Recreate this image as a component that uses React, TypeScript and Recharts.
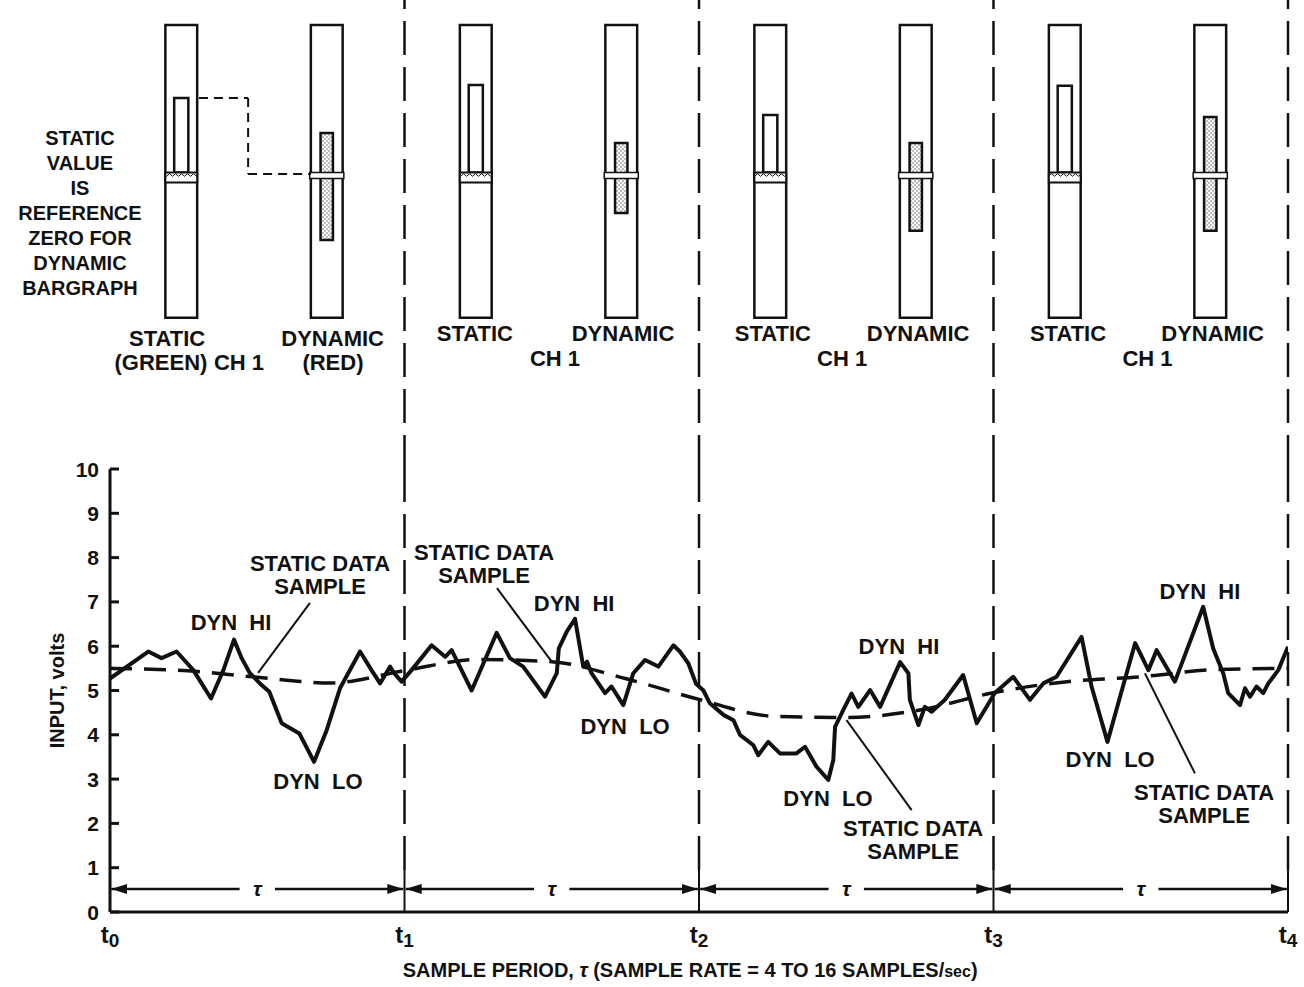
import React from 'react'
import {
  ComposedChart,
  LineChart,
  Line,
  XAxis,
  YAxis,
  ReferenceLine,
  ReferenceArea,
  ReferenceDot,
} from 'recharts'

const FONT = '"Liberation Sans", Arial, Helvetica, sans-serif'
const INK = '#111111'

// time in sample periods (t0..t4), input in volts
const PERIOD_TICKS = [0, 1, 2, 3, 4]
const VOLT_TICKS = [0, 1, 2, 3, 4, 5, 6, 7, 8, 9, 10]

// raw input signal
const SIGNAL_T = [
  0, 0.13, 0.175, 0.226, 0.283, 0.343, 0.385, 0.421, 0.447, 0.475, 0.509, 0.541, 0.583, 0.643, 0.693,
  0.736, 0.781, 0.849, 0.888, 0.917, 0.951, 0.965, 0.99,
  1.024, 1.092, 1.138, 1.16, 1.228, 1.313, 1.358, 1.403, 1.477, 1.517, 1.524, 1.551, 1.579, 1.607,
  1.62, 1.635, 1.681, 1.703, 1.743, 1.777, 1.817, 1.862, 1.913, 1.935, 1.964, 1.99,
  2.015, 2.037, 2.083, 2.117, 2.139, 2.184, 2.201, 2.235, 2.275, 2.331, 2.36, 2.399, 2.439, 2.456,
  2.462, 2.49, 2.518, 2.541, 2.581, 2.615, 2.683, 2.711, 2.716, 2.745, 2.767, 2.79, 2.835, 2.897,
  2.943, 3.005,
  3.067, 3.124, 3.169, 3.214, 3.299, 3.333, 3.387, 3.447, 3.481, 3.526, 3.554, 3.616, 3.712, 3.746,
  3.78, 3.797, 3.837, 3.854, 3.871, 3.893, 3.916, 3.933, 3.967, 4.0,
]
const SIGNAL_V = [
  5.27, 5.88, 5.73, 5.88, 5.46, 4.82, 5.46, 6.15, 5.73, 5.39, 5.16, 4.97, 4.26, 4.03, 3.39,
  4.11, 5.05, 5.88, 5.46, 5.16, 5.54, 5.39, 5.2,
  5.46, 6.02, 5.76, 5.91, 5.0, 6.3, 5.73, 5.54, 4.86, 5.39, 5.95, 6.33, 6.62, 5.54,
  5.65, 5.39, 4.94, 5.09, 4.67, 5.39, 5.69, 5.54, 6.02, 5.88, 5.61, 5.15,
  5.0, 4.71, 4.45, 4.33, 4.0, 3.77, 3.54, 3.84, 3.58, 3.58, 3.73, 3.28, 2.98, 3.43,
  4.18, 4.56, 4.93, 4.63, 5.01, 4.63, 5.64, 5.39, 4.79, 4.22, 4.63, 4.52, 4.79, 5.35,
  4.26, 4.95,
  5.31, 4.79, 5.16, 5.31, 6.21, 5.09, 3.84, 5.27, 6.07, 5.46, 5.91, 5.2, 6.89, 5.95,
  5.39, 4.94, 4.67, 5.05, 4.86, 5.09, 4.94, 5.16, 5.46, 5.99,
]

// smoothed (static) component, dashed
const TREND_T = [0, 0.25, 0.5, 0.75, 1, 1.25, 1.5, 1.75, 2, 2.25, 2.5, 2.75, 3, 3.25, 3.5, 3.75, 4]
const TREND_V = [5.5, 5.45, 5.3, 5.17, 5.45, 5.7, 5.65, 5.27, 4.8, 4.42, 4.39, 4.56, 4.95, 5.2, 5.31, 5.47, 5.5]

// bargraph readings per period, in bargraph units (0 = reference zero)
const STATIC_BAR = [26.2, 30.6, 20.4, 30.3]
const DYN_BAR_HI = [14.3, 10.9, 10.9, 19.7]
const DYN_BAR_LO = [-22.1, -12.9, -19.0, -19.0]

// layout of the bargraph drawings (period fractions / bargraph units)
const BAR_FLOOR = -48.6
const BAR_CEIL = 51
const STATIC_POS = 0.242
const DYNAMIC_POS = 0.736
const OUTER_HALF = 0.054
const INNER_HALF = 0.024
const STIPPLE_HALF = 0.021

type Note = { t: number; v: number; lines: string[] }

const PLOT_NOTES: Note[] = [
  { t: 0.411, v: 6.55, lines: ['DYN\u00a0\u00a0HI'] },
  { t: 0.713, v: 7.88, lines: ['STATIC DATA', 'SAMPLE'] },
  { t: 0.706, v: 2.96, lines: ['DYN\u00a0\u00a0LO'] },
  { t: 1.27, v: 8.13, lines: ['STATIC DATA', 'SAMPLE'] },
  { t: 1.576, v: 6.98, lines: ['DYN\u00a0\u00a0HI'] },
  { t: 1.749, v: 4.2, lines: ['DYN\u00a0\u00a0LO'] },
  { t: 2.679, v: 6.0, lines: ['DYN\u00a0\u00a0HI'] },
  { t: 2.438, v: 2.57, lines: ['DYN\u00a0\u00a0LO'] },
  { t: 2.727, v: 1.9, lines: ['STATIC DATA', 'SAMPLE'] },
  { t: 3.701, v: 7.25, lines: ['DYN\u00a0\u00a0HI'] },
  { t: 3.396, v: 3.45, lines: ['DYN\u00a0\u00a0LO'] },
  { t: 3.715, v: 2.71, lines: ['STATIC DATA', 'SAMPLE'] },
]

// leader lines from the labels to the static samples
const LEADERS = [
  [0.679, 6.98, 0.503, 5.4],
  [1.314, 7.31, 1.501, 5.64],
  [2.501, 4.33, 2.722, 2.3],
  [3.514, 5.39, 3.684, 3.13],
]

const BAR_NOTES: Note[] = [
  { t: 0.194, v: -55.4, lines: ['STATIC'] },
  { t: 0.173, v: -63.6, lines: ['(GREEN)'] },
  { t: 0.438, v: -63.6, lines: ['CH 1'] },
  { t: 0.756, v: -55.4, lines: ['DYNAMIC'] },
  { t: 0.757, v: -63.6, lines: ['(RED)'] },
  { t: 1.239, v: -53.7, lines: ['STATIC'] },
  { t: 1.742, v: -53.7, lines: ['DYNAMIC'] },
  { t: 1.511, v: -62.2, lines: ['CH 1'] },
  { t: 2.251, v: -53.7, lines: ['STATIC'] },
  { t: 2.744, v: -53.7, lines: ['DYNAMIC'] },
  { t: 2.486, v: -62.2, lines: ['CH 1'] },
  { t: 3.253, v: -53.7, lines: ['STATIC'] },
  { t: 3.744, v: -53.7, lines: ['DYNAMIC'] },
  { t: 3.523, v: -62.2, lines: ['CH 1'] },
]

const SIDE_NOTE = ['STATIC', 'VALUE', 'IS', 'REFERENCE', 'ZERO FOR', 'DYNAMIC', 'BARGRAPH']

const signalData = SIGNAL_T.map((t, i) => ({ t, v: SIGNAL_V[i] }))
const trendData = TREND_T.map((t, i) => ({ t, v: TREND_V[i] }))

function textAt(lines: string[], size = 22, gap = 23) {
  return (p: any) => (
    <text
      x={p.cx}
      y={p.cy}
      textAnchor="middle"
      fontFamily={FONT}
      fontWeight={700}
      fontSize={size}
      fill={INK}
    >
      {lines.map((line, i) => (
        <tspan key={i} x={p.cx} dy={i === 0 ? size * 0.36 : gap}>
          {line}
        </tspan>
      ))}
    </text>
  )
}

const arrowShape = (p: any) => (
  <line
    x1={p.x1}
    y1={p.y1}
    x2={p.x2}
    y2={p.y2}
    stroke={INK}
    strokeWidth={2.5}
    markerEnd="url(#arrowHead)"
  />
)

const VoltTick = (p: any) => (
  <g>
    <line x1={p.x} x2={p.x + 9} y1={p.y} y2={p.y} stroke={INK} strokeWidth={3} />
    <text
      x={p.x - 11}
      y={p.y}
      dy={7.5}
      textAnchor="end"
      fontFamily={FONT}
      fontWeight={700}
      fontSize={21}
      fill={INK}
    >
      {p.payload.value}
    </text>
  </g>
)

const PeriodTick = (p: any) => (
  <text x={p.x} y={p.y + 31} textAnchor="middle" fontFamily={FONT} fontWeight={700} fill={INK}>
    <tspan fontSize={24}>t</tspan>
    <tspan fontSize={19} dy={4}>
      {p.payload.value}
    </tspan>
  </text>
)

function BargraphPanel() {
  return (
    <ComposedChart
      width={1304}
      height={469}
      data={STATIC_BAR.map((s, i) => ({ t: i + STATIC_POS, s }))}
      margin={{ top: 0, right: 16, bottom: 0, left: 110 }}
    >
      <defs>
        <pattern id="stipple" width="4" height="4" patternUnits="userSpaceOnUse">
          <rect width="4" height="4" fill="#bdbdbd" />
          <circle cx="1" cy="1" r="1.1" fill="#fff" />
          <circle cx="3" cy="3" r="1.1" fill="#fff" />
        </pattern>
        <pattern id="wave" width="6" height="10" patternUnits="userSpaceOnUse">
          <rect width="6" height="10" fill="#fff" />
          <path d="M0,5 Q1.5,2.5 3,5 T6,5" stroke={INK} strokeWidth="1" fill="none" />
        </pattern>
      </defs>
      <XAxis type="number" dataKey="t" domain={[0, 4]} allowDataOverflow hide />
      <YAxis type="number" domain={[-100, 59.5]} allowDataOverflow hide />

      {[1, 2, 3, 4].map((k) => (
        <ReferenceLine key={`v${k}`} x={k} stroke={INK} strokeWidth={2.5} strokeDasharray="34 12" />
      ))}

      {STATIC_BAR.map((s, i) => {
        const cs = i + STATIC_POS
        const cd = i + DYNAMIC_POS
        return (
          <React.Fragment key={i}>
            <ReferenceArea
              x1={cs - OUTER_HALF}
              x2={cs + OUTER_HALF}
              y1={BAR_FLOOR}
              y2={BAR_CEIL}
              fill="#fff"
              fillOpacity={1}
              stroke={INK}
              strokeWidth={2.5}
            />
            <ReferenceArea
              x1={cs - INNER_HALF}
              x2={cs + INNER_HALF}
              y1={0.8}
              y2={s}
              fill="#fff"
              fillOpacity={1}
              stroke={INK}
              strokeWidth={2.5}
            />
            <ReferenceArea
              x1={cs - OUTER_HALF}
              x2={cs + OUTER_HALF}
              y1={-2.6}
              y2={0.8}
              fill="url(#wave)"
              fillOpacity={1}
              stroke={INK}
              strokeWidth={2}
            />
            <ReferenceArea
              x1={cd - OUTER_HALF}
              x2={cd + OUTER_HALF}
              y1={BAR_FLOOR}
              y2={BAR_CEIL}
              fill="#fff"
              fillOpacity={1}
              stroke={INK}
              strokeWidth={2.5}
            />
            <ReferenceArea
              x1={cd - STIPPLE_HALF}
              x2={cd + STIPPLE_HALF}
              y1={DYN_BAR_LO[i]}
              y2={DYN_BAR_HI[i]}
              fill="url(#stipple)"
              fillOpacity={1}
              stroke={INK}
              strokeWidth={2.5}
            />
            <ReferenceArea
              x1={cd - OUTER_HALF - 0.004}
              x2={cd + OUTER_HALF + 0.004}
              y1={-1.2}
              y2={0.8}
              fill="#fff"
              fillOpacity={1}
              stroke={INK}
              strokeWidth={1.5}
            />
          </React.Fragment>
        )
      })}

      {/* static value carried over as the dynamic reference zero */}
      <ReferenceLine
        segment={[
          { x: STATIC_POS + OUTER_HALF + 0.006, y: STATIC_BAR[0] },
          { x: 0.469, y: STATIC_BAR[0] },
        ]}
        stroke={INK}
        strokeWidth={2}
        strokeDasharray="9 6"
      />
      <ReferenceLine
        segment={[
          { x: 0.469, y: STATIC_BAR[0] },
          { x: 0.469, y: 0.3 },
        ]}
        stroke={INK}
        strokeWidth={2}
        strokeDasharray="9 6"
      />
      <ReferenceLine
        segment={[
          { x: 0.469, y: 0.3 },
          { x: DYNAMIC_POS - OUTER_HALF, y: 0.3 },
        ]}
        stroke={INK}
        strokeWidth={2}
        strokeDasharray="9 6"
      />

      {BAR_NOTES.map((n, i) => (
        <ReferenceDot key={`bn${i}`} x={n.t} y={n.v} r={0} ifOverflow="visible" shape={textAt(n.lines)} />
      ))}
      <ReferenceDot x={-0.102} y={12.6} r={0} ifOverflow="visible" shape={textAt(SIDE_NOTE, 20, 25)} />
    </ComposedChart>
  )
}

function InputPlot() {
  return (
    <LineChart width={1304} height={987} margin={{ top: 469, right: 16, bottom: 25, left: 50 }}>
      <defs>
        <marker
          id="arrowHead"
          viewBox="0 0 16 10"
          refX="16"
          refY="5"
          markerWidth="16"
          markerHeight="10"
          markerUnits="userSpaceOnUse"
          orient="auto"
        >
          <path d="M0,0 L16,5 L0,10 z" fill={INK} />
        </marker>
      </defs>
      <XAxis
        type="number"
        dataKey="t"
        domain={[0, 4]}
        allowDataOverflow
        ticks={PERIOD_TICKS}
        interval={0}
        height={50}
        tickSize={0}
        tickMargin={0}
        tickLine={false}
        axisLine={{ stroke: INK, strokeWidth: 3 }}
        tick={<PeriodTick />}
      />
      <YAxis
        type="number"
        domain={[0, 10]}
        allowDataOverflow
        ticks={VOLT_TICKS}
        interval={0}
        width={60}
        tickSize={0}
        tickMargin={0}
        tickLine={false}
        axisLine={{ stroke: INK, strokeWidth: 3 }}
        tick={<VoltTick />}
      />

      {[1, 2, 3, 4].map((k) => (
        <ReferenceLine
          key={`d${k}`}
          segment={[
            { x: k, y: 0.95 },
            { x: k, y: 10 },
          ]}
          stroke={INK}
          strokeWidth={2.5}
          strokeDasharray="34 12"
        />
      ))}
      {[1, 2, 3, 4].map((k) => (
        <ReferenceLine
          key={`s${k}`}
          segment={[
            { x: k, y: 0 },
            { x: k, y: 0.95 },
          ]}
          stroke={INK}
          strokeWidth={2}
        />
      ))}

      {/* sample period arrows */}
      {[0, 1, 2, 3].map((k) => (
        <React.Fragment key={`a${k}`}>
          <ReferenceLine
            segment={[
              { x: k + 0.44, y: 0.52 },
              { x: k + 0.004, y: 0.52 },
            ]}
            shape={arrowShape}
          />
          <ReferenceLine
            segment={[
              { x: k + 0.56, y: 0.52 },
              { x: k + 0.996, y: 0.52 },
            ]}
            shape={arrowShape}
          />
          <ReferenceDot
            x={k + 0.5}
            y={0.52}
            r={0}
            shape={(p: any) => (
              <text
                x={p.cx}
                y={p.cy + 7}
                textAnchor="middle"
                fontFamily={FONT}
                fontStyle="italic"
                fontWeight={700}
                fontSize={21}
                fill={INK}
              >
                τ
              </text>
            )}
          />
        </React.Fragment>
      ))}

      {LEADERS.map(([t1, v1, t2, v2], i) => (
        <ReferenceLine
          key={`l${i}`}
          segment={[
            { x: t1, y: v1 },
            { x: t2, y: v2 },
          ]}
          stroke={INK}
          strokeWidth={2}
        />
      ))}

      <Line
        data={trendData}
        dataKey="v"
        type="monotone"
        stroke={INK}
        strokeWidth={3.5}
        strokeDasharray="22 12"
        dot={false}
        isAnimationActive={false}
      />
      <Line
        data={signalData}
        dataKey="v"
        type="linear"
        stroke={INK}
        strokeWidth={4}
        strokeLinejoin="round"
        dot={false}
        isAnimationActive={false}
      />

      {PLOT_NOTES.map((n, i) => (
        <ReferenceDot key={`pn${i}`} x={n.t} y={n.v} r={0} shape={textAt(n.lines)} />
      ))}

      <ReferenceDot
        x={-0.18}
        y={5}
        r={0}
        ifOverflow="visible"
        shape={(p: any) => (
          <text
            x={p.cx}
            y={p.cy}
            transform={`rotate(-90 ${p.cx} ${p.cy})`}
            textAnchor="middle"
            dy={7}
            fontFamily={FONT}
            fontWeight={700}
            fontSize={20}
            fill={INK}
          >
            INPUT, volts
          </text>
        )}
      />
      <ReferenceDot
        x={1.97}
        y={-1.31}
        r={0}
        ifOverflow="visible"
        shape={(p: any) => (
          <text
            x={p.cx}
            y={p.cy}
            dy={7}
            textAnchor="middle"
            fontFamily={FONT}
            fontWeight={700}
            fontSize={20}
            fill={INK}
          >
            SAMPLE PERIOD, <tspan fontStyle="italic">τ</tspan> (SAMPLE RATE = 4 TO 16 SAMPLES/
            <tspan fontSize={16}>sec</tspan>)
          </text>
        )}
      />
    </LineChart>
  )
}

export default function App() {
  return (
    <div style={{ position: 'absolute', left: 0, top: 0, width: 1304, height: 987, background: '#fff' }}>
      <div style={{ position: 'absolute', left: 0, top: 0 }}>
        <BargraphPanel />
      </div>
      <div style={{ position: 'absolute', left: 0, top: 0 }}>
        <InputPlot />
      </div>
    </div>
  )
}
